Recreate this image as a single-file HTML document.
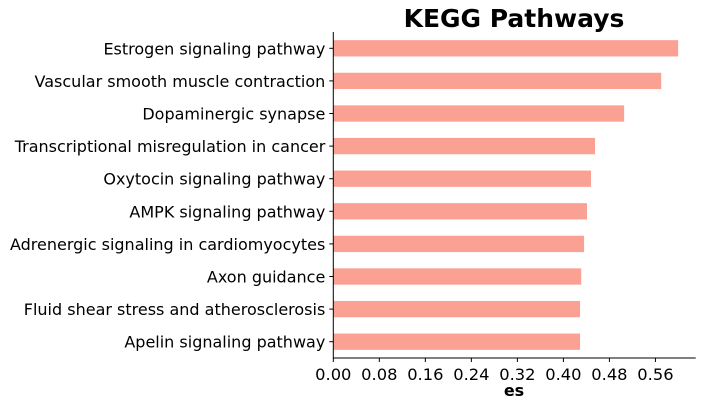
<!DOCTYPE html>
<html><head><meta charset="utf-8"><style>
body{margin:0;background:#fff}
svg{display:block;font-family:"DejaVu Sans","Liberation Sans",sans-serif}
</style></head><body>
<svg id="chart" width="705" height="406">
<text x="514" y="27" text-anchor="middle" font-size="25" font-weight="bold">KEGG Pathways</text>
<g id="bars"></g><g id="yt"></g><g id="xt"></g>
<line x1="333.3" y1="32" x2="333.3" y2="358" stroke="#000" stroke-width="1"/>
<line x1="333.3" y1="358" x2="695.7" y2="358" stroke="#000" stroke-width="1"/>
<text x="514" y="396" text-anchor="middle" font-size="16" font-weight="bold">es</text>
</svg>
<script>
const categories=["Estrogen signaling pathway","Vascular smooth muscle contraction","Dopaminergic synapse","Transcriptional misregulation in cancer","Oxytocin signaling pathway","AMPK signaling pathway","Adrenergic signaling in cardiomyocytes","Axon guidance","Fluid shear stress and atherosclerosis","Apelin signaling pathway"];
const values=[0.5995,0.570,0.5056,0.455,0.448,0.441,0.436,0.431,0.429,0.429];
const xTicks=[0,0.08,0.16,0.24,0.32,0.40,0.48,0.56];
const xTickLabels=["0.00","0.08","0.16","0.24","0.32","0.40","0.48","0.56"];
const NS="http://www.w3.org/2000/svg";
const x0=333.3,x1=695.7,xMax=0.630,yTop=32,yBot=358;
const xs=v=>x0+v/xMax*(x1-x0);
const step=(yBot-yTop)/categories.length;
const ys=i=>yTop+step*(i+0.5);
const bars=document.getElementById('bars'),yt=document.getElementById('yt'),xt=document.getElementById('xt');
categories.forEach((c,i)=>{
 const r=document.createElementNS(NS,'rect');
 r.setAttribute('x',x0);r.setAttribute('y',ys(i)-step*0.25);
 r.setAttribute('width',xs(values[i])-x0);r.setAttribute('height',step*0.5);
 r.setAttribute('fill','#fba194');
 
 
 bars.appendChild(r);
 const t=document.createElementNS(NS,'text');
 t.setAttribute('x',x0-8);t.setAttribute('y',ys(i)+6);
 t.setAttribute('text-anchor','end');t.setAttribute('font-size','16');
 t.textContent=c;
 
 
 yt.appendChild(t);
 const l=document.createElementNS(NS,'line');
 l.setAttribute('x1',x0-4);l.setAttribute('x2',x0);l.setAttribute('y1',ys(i));l.setAttribute('y2',ys(i));l.setAttribute('stroke','#000');
 
 
 yt.appendChild(l);
});
xTicks.forEach((v,i)=>{
 const l=document.createElementNS(NS,'line');
 l.setAttribute('x1',xs(v));l.setAttribute('x2',xs(v));l.setAttribute('y1',yBot);l.setAttribute('y2',yBot+4);l.setAttribute('stroke','#000');
 
 
 xt.appendChild(l);
 const t=document.createElementNS(NS,'text');
 t.setAttribute('x',xs(v));t.setAttribute('y',yBot+22);
 t.setAttribute('text-anchor','middle');t.setAttribute('font-size','16.3');
 t.textContent=xTickLabels[i];
 
 
 xt.appendChild(t);
});
</script>
</body></html>
